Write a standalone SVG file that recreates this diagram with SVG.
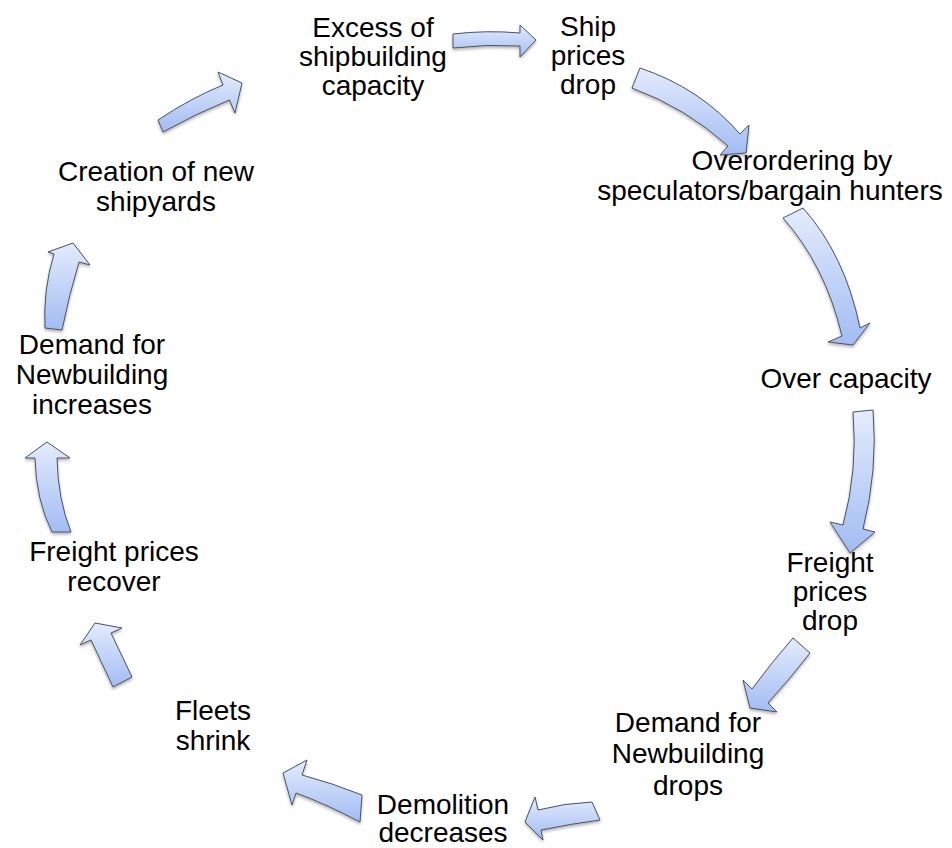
<svg xmlns="http://www.w3.org/2000/svg" width="952" height="848" viewBox="0 0 952 848">
<defs>
<linearGradient id="g" x1="0" y1="0" x2="0" y2="1">
<stop offset="0" stop-color="#e4ecfc"/>
<stop offset="1" stop-color="#a2bcf3"/>
</linearGradient>
<filter id="sh" x="-30%" y="-30%" width="160%" height="160%">
<feDropShadow dx="0" dy="2" stdDeviation="1.8" flood-color="#000" flood-opacity="0.3"/>
</filter>
<style>
.t{font-family:"Liberation Sans",Arial,sans-serif;font-size:28px;fill:#000;text-anchor:middle}
.a{fill:url(#g);stroke:#4a5260;stroke-width:1;stroke-linejoin:round;filter:url(#sh)}
</style>
</defs>
<rect width="952" height="848" fill="#fff"/>
<g id="connectors">
<path class="a" d="M453,34 Q487,30 520,33 L520,25 L536,40 L520,57 L520,46 Q487,44 453,48 Z"/>
<path class="a" d="M640,68 Q700,88 740,134 L749,125 L746,153 L720,155 L728,146 Q686,108 632,88 Z"/>
<path class="a" d="M803,208 Q845,255 860,328 L870,323 L853,345 L828,342 L842,336 Q825,265 783,218 Z"/>
<path class="a" d="M873,410 Q878,470 863,529 L875,532 L850,553 L830,522 L843,525 Q858,470 853,412 Z"/>
<path class="a" d="M810,653 Q789,680 768,703 L777,712 L750,708 L743,680 L752,689 Q772,662 793,638 Z"/>
<path class="a" d="M600,820 Q570,824 541,830 L543,840 L525,822 L535,797 L538,810 Q565,803 592,802 Z"/>
<path class="a" d="M362,795 Q332,783 302,775 L307,760 L283,773 L292,805 L296,793 Q326,804 360,822 Z"/>
<path class="a" d="M113,687 L91,640 L80,645 L95,623 L122,628 L111,633 L132,677 Z"/>
<path class="a" d="M35,458 L25,458 L47,442 L70,458 L57,458 Q58,500 71,532 L52,532 Q36,500 35,458 Z"/>
<path class="a" d="M45,328 Q43,290 54,254 L48,252 L73,243 L90,265 L79,262 Q69,295 62,330 Z"/>
<path class="a" d="M158,120 Q191,98 223,85 L218,72 L242,83 L235,113 L229.5,100 Q197,113 163,132 Z"/>
</g>
<g id="n1"><text class="t" x="373" y="37">Excess of</text><text class="t" x="373" y="66">shipbuilding</text><text class="t" x="373" y="95">capacity</text></g>
<g id="n2"><text class="t" x="588" y="36">Ship</text><text class="t" x="588" y="65">prices</text><text class="t" x="588" y="94">drop</text></g>
<g id="n3"><text class="t" x="792" y="170">Overordering by</text><text class="t" x="770" y="200">speculators/bargain hunters</text></g>
<g id="n4"><text class="t" x="846" y="388">Over capacity</text></g>
<g id="n5"><text class="t" x="830" y="572">Freight</text><text class="t" x="830" y="601">prices</text><text class="t" x="830" y="630">drop</text></g>
<g id="n6"><text class="t" x="688" y="732">Demand for</text><text class="t" x="688" y="763">Newbuilding</text><text class="t" x="688" y="795">drops</text></g>
<g id="n7"><text class="t" x="443" y="814">Demolition</text><text class="t" x="443" y="842">decreases</text></g>
<g id="n8"><text class="t" x="213" y="720">Fleets</text><text class="t" x="213" y="750">shrink</text></g>
<g id="n9"><text class="t" x="114" y="561">Freight prices</text><text class="t" x="114" y="591">recover</text></g>
<g id="n10"><text class="t" x="92" y="354">Demand for</text><text class="t" x="92" y="384">Newbuilding</text><text class="t" x="92" y="414">increases</text></g>
<g id="n11"><text class="t" x="156" y="181">Creation of new</text><text class="t" x="156" y="211">shipyards</text></g>
</svg>
